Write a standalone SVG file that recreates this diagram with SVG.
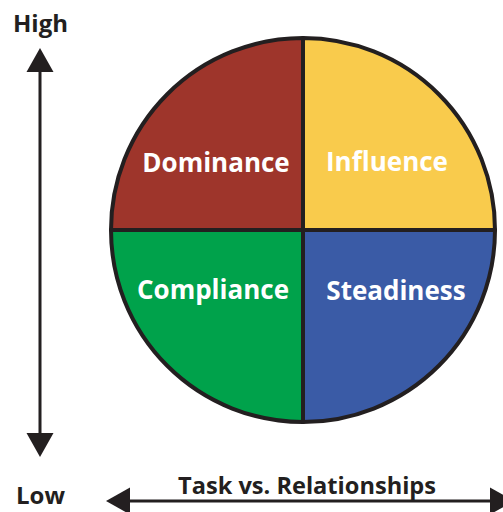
<svg xmlns="http://www.w3.org/2000/svg" width="503" height="512" viewBox="0 0 503 512">
<style>
.lbl{font-family:"Open Sans","Noto Sans",sans-serif;font-weight:bold;font-size:26px;fill:#ffffff}
.ax{font-family:"Open Sans","Noto Sans",sans-serif;font-weight:bold;fill:#231f20}
.q{stroke:#231f20;stroke-width:4;stroke-linejoin:round}
.conn{stroke:#231f20;stroke-width:3;fill:none}
.head{fill:#231f20}
</style>
<rect width="503" height="512" fill="#ffffff"/>
<g id="dominance">
<path class="q" d="M303,230 L111,230 A192,192 0 0 1 303,38 Z" fill="#9e352b"/>
<text class="lbl" x="216" y="172" text-anchor="middle">Dominance</text>
</g>
<g id="influence">
<path class="q" d="M303,230 L303,38 A192,192 0 0 1 495,230 Z" fill="#f9cb4c"/>
<text class="lbl" x="387" y="171" text-anchor="middle">Influence</text>
</g>
<g id="compliance">
<path class="q" d="M303,230 L303,422 A192,192 0 0 1 111,230 Z" fill="#00a24b"/>
<text class="lbl" x="213" y="299" text-anchor="middle">Compliance</text>
</g>
<g id="steadiness">
<path class="q" d="M303,230 L495,230 A192,192 0 0 1 303,422 Z" fill="#3a5ba6"/>
<text class="lbl" x="396" y="300" text-anchor="middle">Steadiness</text>
</g>
<g id="high"><text class="ax" x="13" y="32" font-size="24">High</text></g>
<g id="low"><text class="ax" x="16" y="504" font-size="24">Low</text></g>
<g id="axis-x-label"><text class="ax" x="178" y="494" font-size="23.6">Task vs. Relationships</text></g>
<g id="connectors">
<line class="conn" x1="40" y1="70" x2="40" y2="435"/>
<polygon class="head" points="40,48 26.5,72 53.5,72"/>
<polygon class="head" points="40,457 26.5,433 53.5,433"/>
<line class="conn" x1="128" y1="501" x2="492" y2="501"/>
<polygon class="head" points="106,501 130,487.5 130,514.5"/>
<polygon class="head" points="514,501 490,487.5 490,514.5"/>
</g>
</svg>
